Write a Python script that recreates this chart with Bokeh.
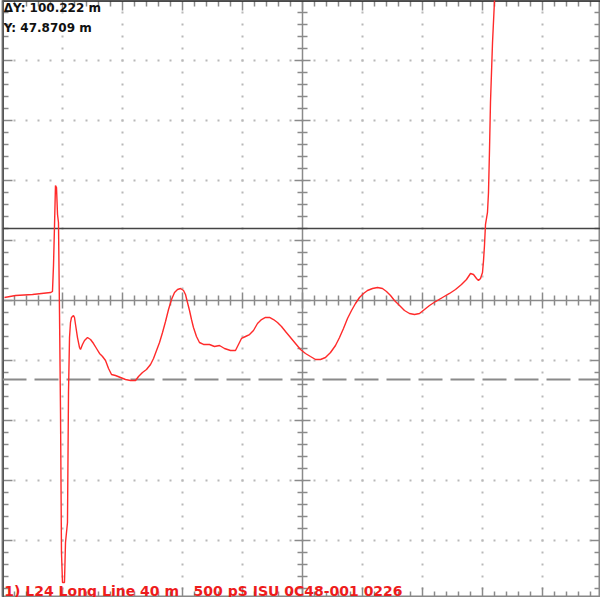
import numpy as np
from bokeh.plotting import figure
from bokeh.models import Range1d, Label
from bokeh.embed import file_html
from bokeh.resources import INLINE

# Trace, in screen divisions (x: 0..10 div, y: -5..5 div)
dist_div = [0.033, 0.217, 0.5, 0.8, 0.833, 0.85, 0.867, 0.883, 0.9, 0.917, 0.933, 0.95, 0.967,
            0.983, 1.0, 1.033, 1.05, 1.083,
            1.100, 1.117, 1.133, 1.150, 1.183, 1.200, 1.217, 1.250, 1.283, 1.300,
            1.333, 1.367, 1.417, 1.467, 1.517, 1.567, 1.617, 1.667, 1.717, 1.767,
            1.817, 1.883, 1.967, 2.050, 2.133, 2.217, 2.267, 2.333, 2.400, 2.467,
            2.517, 2.567, 2.617, 2.667, 2.717, 2.767, 2.817, 2.867, 2.917, 2.967,
            3.017, 3.050, 3.083, 3.117, 3.150, 3.183, 3.233, 3.283, 3.350, 3.450,
            3.533, 3.617, 3.700, 3.800, 3.883, 3.933, 3.983, 4.050, 4.117, 4.183,
            4.250, 4.317, 4.383, 4.450, 4.517, 4.583, 4.650, 4.717, 4.800, 4.883,
            4.967, 5.050, 5.133, 5.217, 5.300, 5.383, 5.467, 5.550, 5.617, 5.683,
            5.750, 5.817, 5.883, 5.950, 6.017, 6.083, 6.167, 6.250, 6.333, 6.400,
            6.467, 6.533, 6.617, 6.700, 6.783, 6.867, 6.950, 7.033, 7.117, 7.217,
            7.333, 7.450, 7.550, 7.650, 7.733, 7.800, 7.850, 7.900, 7.933, 7.967,
            8.000, 8.017, 8.033, 8.050, 8.083, 8.100, 8.117, 8.133, 8.167, 8.200,
            8.217]
level_div = [0.05, 0.083, 0.1, 0.133, 0.15, 0.583, 1.25, 1.917, 1.883, 1.433, 1.3, -0.2, -1.867,
             -4.2, -4.7, -4.7, -4.033, -3.7,
             -1.533, -0.617, -0.367, -0.283, -0.250, -0.283, -0.400, -0.617, -0.783, -0.817,
             -0.733, -0.667, -0.617, -0.650, -0.717, -0.800, -0.883, -0.933, -1.000, -1.133,
             -1.233, -1.250, -1.283, -1.317, -1.333, -1.333, -1.267, -1.200, -1.150, -1.067,
             -0.967, -0.833, -0.700, -0.533, -0.350, -0.150, 0.017, 0.133, 0.183, 0.200,
             0.167, 0.100, -0.033, -0.167, -0.317, -0.450, -0.600, -0.700, -0.733, -0.733,
             -0.767, -0.750, -0.800, -0.833, -0.833, -0.733, -0.633, -0.600, -0.567, -0.500,
             -0.383, -0.317, -0.283, -0.283, -0.317, -0.367, -0.433, -0.517, -0.617, -0.717,
             -0.817, -0.883, -0.933, -0.983, -0.983, -0.950, -0.867, -0.750, -0.617, -0.467,
             -0.300, -0.167, -0.050, 0.050, 0.117, 0.167, 0.200, 0.217, 0.200, 0.150,
             0.083, 0.000, -0.083, -0.167, -0.217, -0.233, -0.217, -0.150, -0.083, -0.017,
             0.050, 0.117, 0.183, 0.267, 0.350, 0.450, 0.433, 0.367, 0.333, 0.367,
             0.467, 0.667, 0.917, 1.267, 1.467, 1.800, 2.517, 3.300, 4.300, 5.000,
             5.467]

cursor_solid = 1.2
cursor_dashed = -1.317

readout_1 = "ΔY: 100.222 m"
readout_2 = "Y: 47.8709 m"
footer = "1) L24 Long Line 40 m \u00a0\u00a0500 pS ISU 0C48-001 0226"

X0, X1 = 0.0, 598 / 60.0
Y0, Y1 = 5.0 - 597 / 60.0, 5.0

p = figure(width=600, height=597, output_backend="svg", toolbar_location=None,
           x_range=Range1d(X0, X1), y_range=Range1d(Y0, Y1),
           min_border_left=2, min_border_right=0, min_border_top=0, min_border_bottom=0)
p.axis.visible = False
p.grid.visible = False
p.background_fill_color = "white"
p.border_fill_color = "white"
p.outline_line_color = "#888888"
p.outline_line_width = 2

# dotted graticule
minor = np.arange(0, 10.001, 0.2)
miny = np.arange(-5, 5.001, 0.2)
gx, gy = [], []
for k in [1, 2, 3, 4, 6, 7, 8, 9]:
    gx += [k] * len(miny); gy += list(miny)
for k in [-4, -3, -2, -1, 1, 2, 3, 4]:
    gx += list(minor); gy += [k] * len(minor)
p.scatter(gx, gy, marker="square", size=2, color="#b8b8b8", line_width=0)

# center cross
p.line([X0, X1], [0, 0], color="#8a8a8a", line_width=1.5)
p.line([5, 5], [Y0, Y1], color="#8a8a8a", line_width=1.5)

def tl(px):
    return px / 60.0

tx0, tx1, ty0, ty1 = [], [], [], []
for v in minor:
    L = tl(8) if abs(v - round(v)) < 1e-6 else tl(5)
    tx0.append(v); tx1.append(v); ty0.append(-L); ty1.append(L)
for v in miny:
    L = tl(8) if abs(v - round(v)) < 1e-6 else tl(5)
    tx0.append(5 - L); tx1.append(5 + L); ty0.append(v); ty1.append(v)
p.segment(tx0, ty0, tx1, ty1, color="#8a8a8a", line_width=1.5)

bx0, bx1, by0, by1 = [], [], [], []
for v in minor:
    L = tl(10) if abs(v - round(v)) < 1e-6 else tl(6)
    bx0 += [v, v]; bx1 += [v, v]
    by0 += [Y1, Y0]; by1 += [Y1 - L, Y0 + L]
for v in miny:
    L = tl(10) if abs(v - round(v)) < 1e-6 else tl(6)
    bx0 += [X0, X1]; bx1 += [X0 + L, X1 - L]
    by0 += [v, v]; by1 += [v, v]
p.segment(bx0, by0, bx1, by1, color="#8a8a8a", line_width=1.5)

p.line([X0, X1], [Y1, Y1], color="#222222", line_width=2.5)
p.line([X0, X0], [Y0, Y1], color="#555555", line_width=3)

# cursors
p.line([X0, X1], [cursor_solid, cursor_solid], color="#444444", line_width=1.5)
p.line([X0, X1], [cursor_dashed, cursor_dashed], color="#8a8a8a", line_width=2, line_dash="24 8")

# trace
p.line(dist_div, level_div, color="#ff2a2a", line_width=1.4)

p.add_layout(Label(x=0.02, y=(308 - 15) / 60.0, text=readout_1, text_font="DejaVu Sans",
                   text_font_style="bold", text_font_size="12px", text_color="#111111",
                   text_baseline="middle"))
p.add_layout(Label(x=0.02, y=(308 - 35) / 60.0, text=readout_2, text_font="DejaVu Sans",
                   text_font_style="bold", text_font_size="12px", text_color="#111111",
                   text_baseline="middle"))
p.add_layout(Label(x=0.03, y=(308 - 598) / 60.0, text=footer, text_font="DejaVu Sans",
                   text_font_style="bold", text_font_size="14px", text_color="#ee1c1c",
                   text_baseline="middle"))

open("out.html", "w").write(file_html(p, INLINE))
